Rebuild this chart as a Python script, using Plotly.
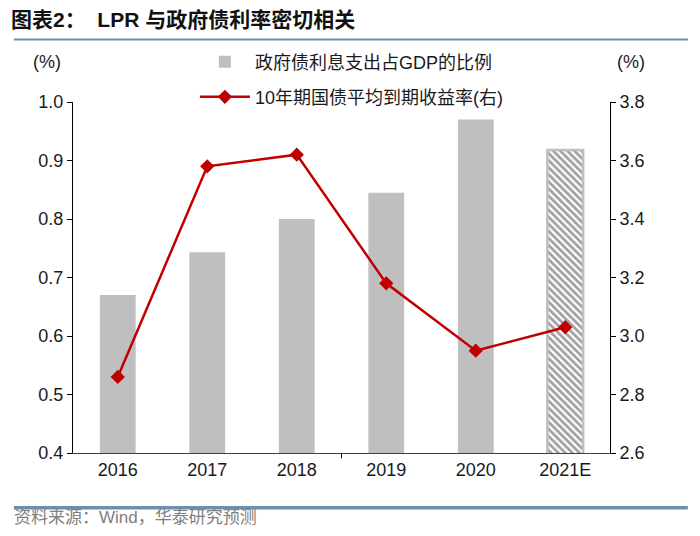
import plotly.graph_objects as go

categories = ["2016", "2017", "2018", "2019", "2020", "2021E"]
interest_ratio = [0.67, 0.743, 0.80, 0.845, 0.97, 0.918]
bond_yield = [2.86, 3.58, 3.62, 3.18, 2.95, 3.03]
bar_name = "政府债利息支出占GDP的比例"
line_name = "10年期国债平均到期收益率(右)"
title_text = "图表2：  LPR 与政府债利率密切相关"
source_text = "资料来源：Wind，华泰研究预测"

FONT = "Liberation Sans, Arial, Noto Sans CJK SC, sans-serif"
GRAY = "#bfbfbf"
RED = "#c00000"

fig = go.Figure()
fig.add_trace(go.Bar(
    x=categories, y=interest_ratio, name=bar_name, width=0.4,
    marker=dict(
        color=[GRAY] * 5 + ["white"],
        line=dict(color=GRAY, width=[0, 0, 0, 0, 0, 2.5]),
        pattern=dict(shape=["", "", "", "", "", "\\"], fgcolor=GRAY,
                     bgcolor="white", size=5, solidity=0.55, fillmode="overlay"),
    ),
    legend="legend", yaxis="y",
))
fig.add_trace(go.Scatter(
    x=categories, y=bond_yield, name=line_name, mode="lines+markers",
    line=dict(color=RED, width=2.5),
    marker=dict(symbol="diamond", size=11, color=RED),
    legend="legend2", yaxis="y2",
))

fig.update_layout(
    width=700, height=536,
    margin=dict(l=73, r=90, t=102, b=83, autoexpand=False),
    paper_bgcolor="white", plot_bgcolor="white",
    font=dict(family=FONT, size=17, color="#1a1a1a"),
    showlegend=True,
    legend=dict(x=0.227, y=1.114, xanchor="left", yanchor="middle",
                font=dict(size=18), bgcolor="rgba(0,0,0,0)", itemwidth=50),
    legend2=dict(x=0.227, y=1.014, xanchor="left", yanchor="middle",
                 font=dict(size=18), bgcolor="rgba(0,0,0,0)", itemwidth=50),
    xaxis=dict(showline=True, linecolor="#404040", linewidth=1, ticks="",
               tickfont=dict(size=18), showgrid=False),
    yaxis=dict(range=[0.4, 1.0], dtick=0.1, tickformat=".1f", showline=True,
               linecolor="black", linewidth=1, ticks="outside", ticklen=5,
               tickcolor="black", showgrid=False, zeroline=False,
               tickfont=dict(size=18)),
    yaxis2=dict(range=[2.6, 3.8], dtick=0.2, tickformat=".1f", overlaying="y",
                side="right", showline=True, linecolor="black", linewidth=1,
                ticks="outside", ticklen=5, tickcolor="black", showgrid=False,
                zeroline=False, tickfont=dict(size=18)),
    bargap=0.6,
)

# Single category-boundary tick between 2018 and 2019
fig.add_shape(type="line", xref="x", yref="paper", x0=2.5, x1=2.5, y0=0, y1=-0.015,
              line=dict(color="black", width=1))

# Title and header/footer rules
fig.add_annotation(xref="paper", yref="paper", x=-0.12, y=1.234, xanchor="left",
                   yanchor="middle", text="<b>" + title_text + "</b>", showarrow=False,
                   font=dict(size=21, color="#111111", family=FONT))
fig.add_shape(type="line", xref="paper", yref="paper", x0=-0.110, x1=1.145,
              y0=1.178, y1=1.178, line=dict(color="#6f8db0", width=2))
fig.add_shape(type="line", xref="paper", yref="paper", x0=-0.110, x1=1.145,
              y0=-0.156, y1=-0.156, line=dict(color="#6f8db0", width=3.5))
fig.add_annotation(xref="paper", yref="paper", x=-0.114, y=-0.183, xanchor="left",
                   yanchor="middle", text=source_text, showarrow=False,
                   font=dict(size=17, color="#808080", family=FONT))

# Axis unit labels
fig.add_annotation(xref="paper", yref="paper", x=-0.048, y=1.114, xanchor="center",
                   yanchor="middle", text="(%)", showarrow=False, font=dict(size=18))
fig.add_annotation(xref="paper", yref="paper", x=1.04, y=1.114, xanchor="center",
                   yanchor="middle", text="(%)", showarrow=False, font=dict(size=18))

# Remove the default page margin so the figure sits at the window origin
fig.write_html("out.html", config={"displayModeBar": False},
               post_script="document.body.style.margin='0';")
